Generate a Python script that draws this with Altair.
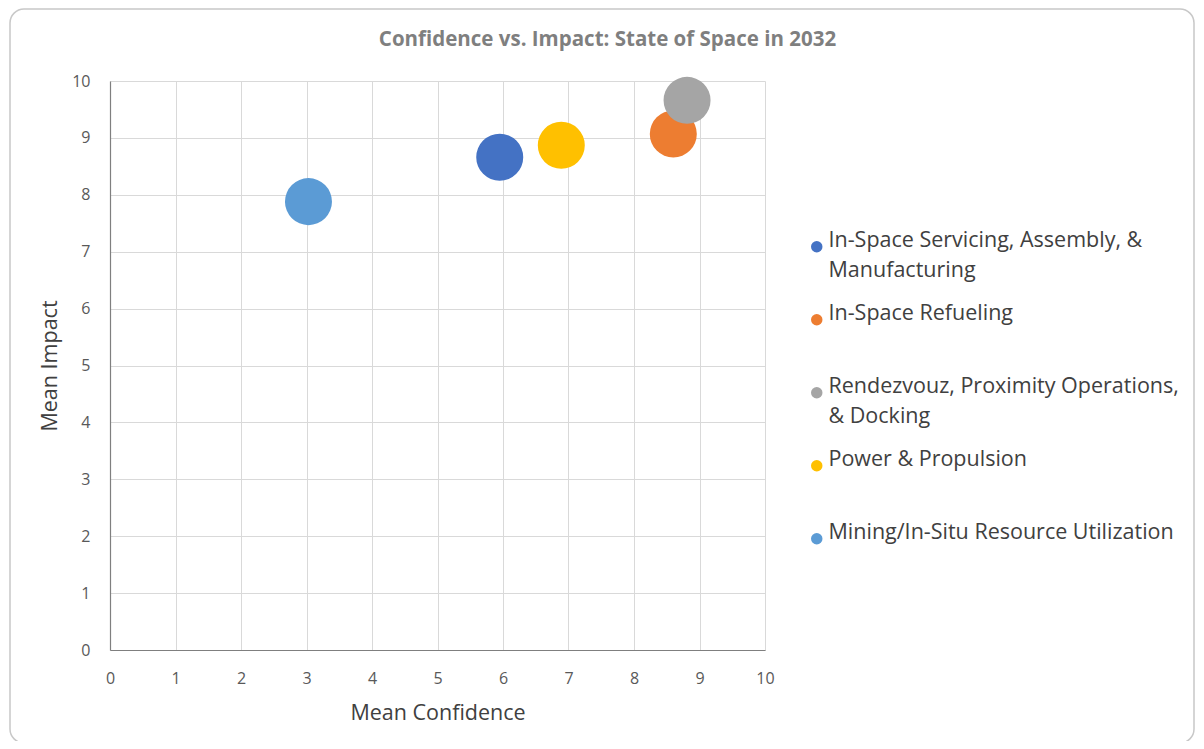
import altair as alt
import pandas as pd

categories = [
    "In-Space Servicing, Assembly, & Manufacturing",
    "In-Space Refueling",
    "Rendezvouz, Proximity Operations, & Docking",
    "Power & Propulsion",
    "Mining/In-Situ Resource Utilization",
]
mean_confidence = [5.95, 8.60, 8.81, 6.89, 3.03]
mean_impact = [8.66, 9.07, 9.66, 8.87, 7.88]
colors = ["#4472C4", "#ED7D31", "#A5A5A5", "#FFC000", "#5B9BD5"]
ticks = list(range(0, 11))

df = pd.DataFrame({
    "Technology": categories,
    "Mean Confidence": mean_confidence,
    "Mean Impact": mean_impact,
    "order": list(range(len(categories))),
})

label_expr = (
    "datum.label == 'In-Space Servicing, Assembly, & Manufacturing' ? "
    "['In-Space Servicing, Assembly, &', 'Manufacturing'] : "
    "datum.label == 'Rendezvouz, Proximity Operations, & Docking' ? "
    "['Rendezvouz, Proximity Operations,', '& Docking'] : datum.label"
)

frame = alt.Chart(pd.DataFrame({"f": [0]})).mark_rect(
    fillOpacity=0, stroke="#c8c8c8", strokeWidth=1.5, cornerRadius=14, clip=False
).encode(
    x=alt.value(-100), x2=alt.value(1084),
    y=alt.value(-72), y2=alt.value(662),
)

points = alt.Chart(df).mark_circle(opacity=1, size=2209).encode(
    x=alt.X("Mean Confidence:Q",
            scale=alt.Scale(domain=[0, 10], nice=False),
            axis=alt.Axis(values=ticks, title="Mean Confidence")),
    y=alt.Y("Mean Impact:Q",
            scale=alt.Scale(domain=[0, 10], nice=False),
            axis=alt.Axis(values=ticks, title="Mean Impact")),
    color=alt.Color("Technology:N",
                    scale=alt.Scale(domain=categories, range=colors),
                    legend=alt.Legend(
                        title=None, orient="none", legendX=696, legendY=155,
                        symbolType="circle", symbolSize=132,
                        labelFont="Open Sans", labelFontSize=21.5,
                        labelColor="#404040", labelLimit=500,
                        labelBaseline="alphabetic",
                        labelExpr=label_expr, gridAlign="all",
                        rowPadding=20, labelOffset=1,
                    )),
    order=alt.Order("order:Q"),
)

chart = alt.layer(frame, points).properties(
    width=655, height=569,
    autosize=alt.AutoSizeParams(type="none"),
    padding={"left": 102, "top": 73, "right": 431, "bottom": 91},
    title=alt.TitleParams(
        "Confidence vs. Impact: State of Space in 2032",
        font="Open Sans", fontSize=20.5, fontWeight="bold", color="#7f7f7f",
        anchor="middle", frame="group", dx=170, dy=72, offset=30,
    ),
).configure(
    style={"guide-label": {"lineHeight": 30}},
).configure_view(stroke=None).configure_axis(
    grid=True, gridColor="#d9d9d9", gridWidth=1,
    domainColor="#7f7f7f", domainWidth=1.2, ticks=False,
    labelFont="Open Sans", labelFontSize=16, labelColor="#595959",
    labelPadding=20, labelFlush=False, titleFont="Open Sans", titleFontSize=21.5,
    titleFontWeight="normal", titleColor="#404040",
).configure_axisX(titlePadding=16, labelAngle=0).configure_axisY(titlePadding=10)

chart.save("out.html", embed_options={"renderer": "svg", "actions": False})
